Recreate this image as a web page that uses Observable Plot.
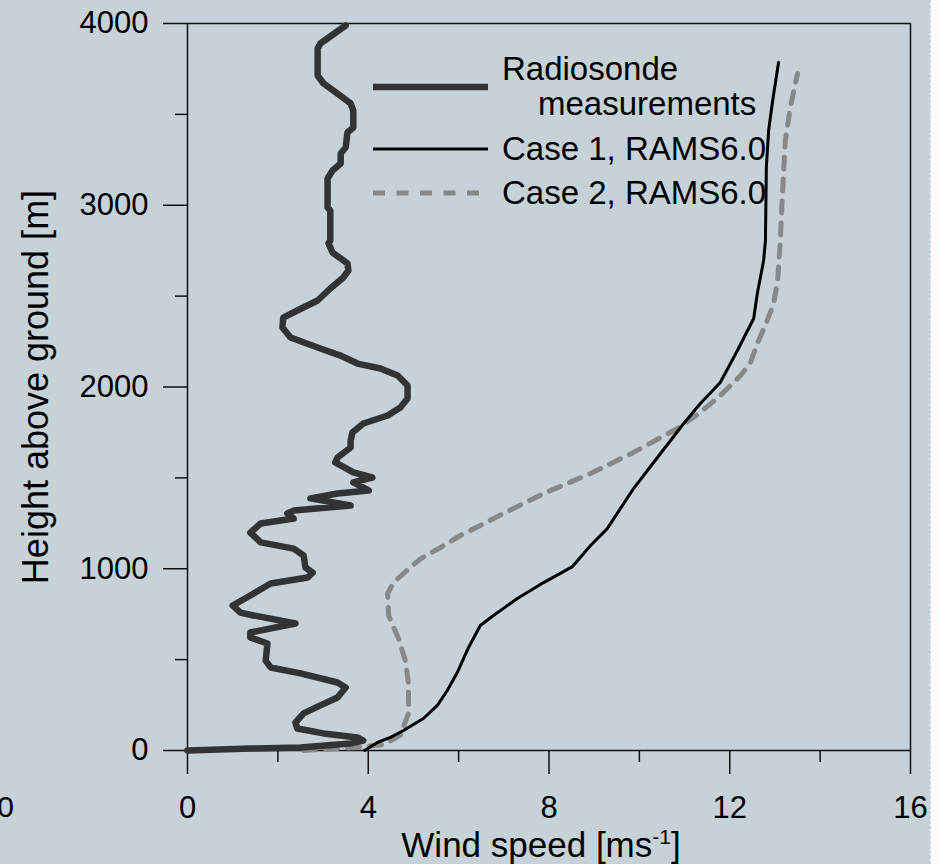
<!DOCTYPE html>
<html><head><meta charset="utf-8">
<script src="https://cdn.jsdelivr.net/npm/d3@7"></script>
<script src="https://cdn.jsdelivr.net/npm/@observablehq/plot@0.6"></script>
<style>
html,body{margin:0;padding:0;background:#fff;}
#wrap{position:relative;width:940px;height:864px;background:linear-gradient(to right,#c7d1d8 0,#c7d1d8 930px,#fbfbfb 930px,#fbfbfb 940px);overflow:hidden;font-family:"Liberation Sans",Arial,sans-serif;}
#edge{position:absolute;left:930px;top:0;width:0;height:864px;border-left:1px dashed #e3c9cf;}
#wrap svg{position:absolute;left:0;top:0;overflow:visible;max-width:none !important;width:940px !important;height:864px !important;}
</style></head><body><div id="wrap"><div id="edge"></div></div>
<script>
// Radiosonde measurements: height above ground [m] and wind speed [m/s]
const radioHeight = [0,11,17,39,55,72,94,121,154,204,248,292,347,374,424,457,495,589,622,649,699,743,759,798,853,919,952,979,1007,1073,1111,1145,1199,1249,1276,1304,1320,1348,1387,1414,1431,1475,1502,1530,1585,1612,1667,1706,1750,1799,1843,1887,1937,2008,2063,2102,2129,2173,2212,2272,2327,2382,2421,2476,2542,2603,2641,2680,2740,2790,2806,2971,2988,3147,3191,3230,3285,3318,3400,3428,3521,3560,3631,3670,3714,3862,3890,3989];
const radioSpeed = [0,1.39,2.50,3.61,3.89,3.76,3.01,2.43,2.39,2.57,2.94,3.32,3.50,3.32,2.50,1.84,1.73,1.77,1.39,1.39,2.39,1.46,1.17,1.00,1.39,1.84,2.66,2.77,2.61,2.57,2.35,1.62,1.39,1.62,2.35,2.21,2.35,3.61,2.72,3.32,4.01,3.67,4.09,3.67,3.27,3.32,3.61,3.61,3.65,3.89,4.43,4.71,4.87,4.87,4.65,4.27,3.76,3.39,2.94,2.28,2.10,2.12,2.43,2.88,3.16,3.45,3.56,3.54,3.21,3.12,3.16,3.16,3.10,3.10,3.21,3.39,3.39,3.50,3.54,3.67,3.67,3.61,3.23,3.01,2.88,2.88,2.94,3.50];

// Case 1, RAMS6.0
const case1Height = [0,44,72,110,176,248,330,429,567,688,743,836,924,1012,1128,1221,1441,1612,1799,1909,2025,2201,2377,2514,2696,2806,3208,3411,3576,3785];
const case1Speed = [3.92,4.20,4.49,4.78,5.22,5.53,5.75,5.97,6.22,6.48,6.77,7.30,7.88,8.52,8.92,9.29,9.87,10.40,10.98,11.35,11.79,12.17,12.53,12.61,12.75,12.79,12.81,12.86,12.95,13.08];

// Case 2, RAMS6.0
const case2Height = [0,17,33,83,204,369,495,616,743,864,924,974,1056,1117,1183,1238,1304,1414,1524,1640,1772,1860,1953,2063,2135,2239,2366,2459,2586,2806,3081,3356,3538,3725];
const case2Speed = [2.57,3.76,4.34,4.71,4.89,4.89,4.82,4.67,4.45,4.43,4.56,4.78,5.16,5.60,6.04,6.48,6.99,7.88,8.92,9.87,10.84,11.35,11.79,12.24,12.46,12.61,12.83,12.97,13.06,13.12,13.17,13.23,13.34,13.50];

const xTicks = [0,4,8,12,16];
const xMinor = [2,6,10,14];
const yTicks = [0,1000,2000,3000,4000];
const yMinor = [500,1500,2500,3500];

const legendLabels = [["Radiosonde","measurements"],["Case 1, RAMS6.0"],["Case 2, RAMS6.0"]];
const xTitle = "Wind speed [ms-1]";
const yTitle = "Height above ground [m]";

const toRows = (hs, ss) => hs.map((h, i) => ({h, s: ss[i]}));
const radio = toRows(radioHeight, radioSpeed);
const case1 = toRows(case1Height, case1Speed);
const case2 = toRows(case2Height, case2Speed);

const FONT = "'Liberation Sans', Arial, sans-serif";

const chart = Plot.plot({
  width: 940, height: 864,
  marginLeft: 187, marginRight: 30, marginTop: 23, marginBottom: 114,
  style: {background: "transparent", fontFamily: FONT, fontSize: "31px", color: "#000", overflow: "visible"},
  x: {domain: [0, 16], label: null},
  y: {domain: [0, 4000], label: null},
  marks: [
    Plot.ruleY([0, 4000], {stroke: "#111", strokeWidth: 1.5}),
    Plot.ruleX([0, 16], {stroke: "#111", strokeWidth: 1.5}),
    Plot.axisY({ticks: yTicks, tickSize: 24, tickPadding: 15, tickFormat: d => String(d), label: null, stroke: "#111", strokeWidth: 1.5, fill: "#000", fontSize: 31}),
    Plot.axisY({ticks: yMinor, tickSize: 12, tickFormat: () => "", label: null, stroke: "#111", strokeWidth: 1.5}),
    Plot.axisX({ticks: xTicks, tickSize: 24, tickPadding: 21, tickFormat: d => String(d), label: null, stroke: "#111", strokeWidth: 1.5, fill: "#000", fontSize: 31}),
    Plot.axisX({ticks: xMinor, tickSize: 12, tickFormat: () => "", label: null, stroke: "#111", strokeWidth: 1.5}),
    Plot.line(case2, {x: "s", y: "h", stroke: "#888888", strokeWidth: 5, strokeDasharray: "12,10"}),
    Plot.line(case1, {x: "s", y: "h", stroke: "#000", strokeWidth: 3}),
    Plot.line(radio, {x: "s", y: "h", stroke: "#333333", strokeWidth: 6.5, strokeLinejoin: "round"}),
    Plot.text([yTitle], {text: d => d, frameAnchor: "left", dx: -151, rotate: -90, textAnchor: "middle", lineAnchor: "middle", fontSize: 36, fill: "#000"}),
    Plot.text([xTitle], {text: d => d, frameAnchor: "bottom", dx: -8, dy: 95, textAnchor: "middle", lineAnchor: "middle", fontSize: 35, fill: "#000"})
  ]
});

// superscript in the x title
d3.select(chart).selectAll("text").filter(function() { return this.textContent === xTitle; }).each(function() {
  const t = d3.select(this);
  t.text(null);
  t.append("tspan").text("Wind speed [ms");
  t.append("tspan").attr("font-size", 21).attr("dy", -13).text("-1");
  t.append("tspan").attr("dy", 13).text("]");
});

const wrap = document.getElementById("wrap");
wrap.appendChild(chart);

// legend overlay
const lg = d3.select(wrap).append("svg").attr("width", 940).attr("height", 864)
  .style("font-family", FONT).style("pointer-events", "none");
const legStyles = [
  {y: 87, stroke: "#333333", w: 6.5, dash: null, base: [80, 115], indent: [0, 36]},
  {y: 149, stroke: "#000", w: 3, dash: null, base: [160], indent: [0]},
  {y: 193, stroke: "#888888", w: 5, dash: "12,11.5", base: [204], indent: [0]}
];
legendLabels.forEach((lines, i) => {
  const s = legStyles[i];
  lg.append("line").attr("x1", 373).attr("x2", 488).attr("y1", s.y).attr("y2", s.y)
    .attr("stroke", s.stroke).attr("stroke-width", s.w).attr("stroke-dasharray", s.dash);
  lines.forEach((txt, j) => {
    lg.append("text").attr("x", 502 + s.indent[j]).attr("y", s.base[j])
      .attr("font-size", 33).attr("fill", "#000").text(txt);
  });
});
// partial tick label of the neighbouring panel at the left edge
lg.append("text").attr("x", 14).attr("y", 817).attr("text-anchor", "end").attr("font-size", 30).attr("fill", "#000").text("0");
</script>
</body></html>
